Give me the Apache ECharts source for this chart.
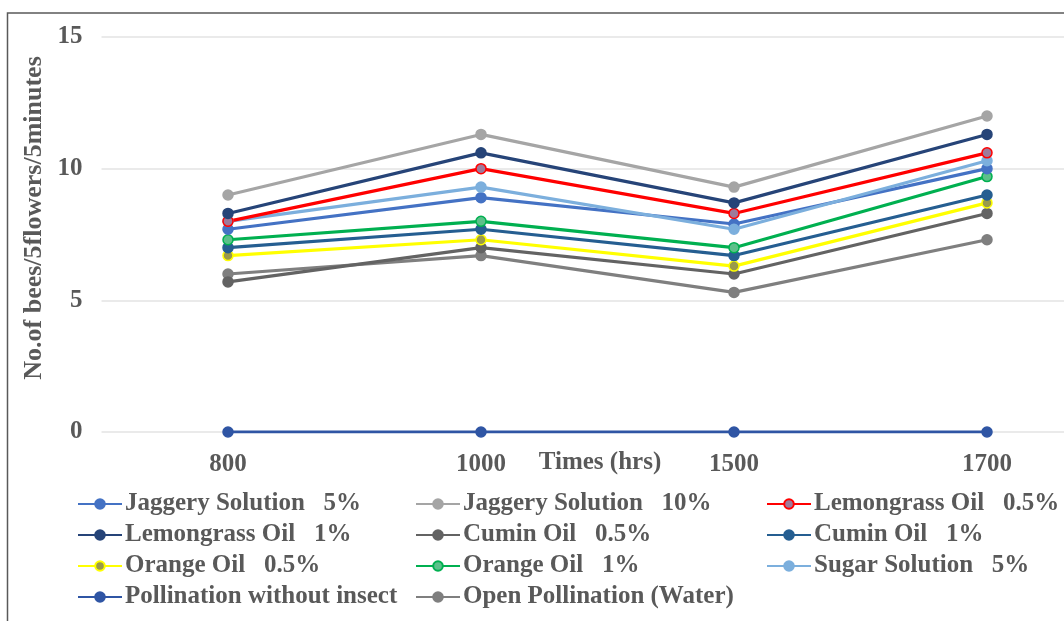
<!DOCTYPE html>
<html><head><meta charset="utf-8">
<script src="https://cdn.jsdelivr.net/npm/echarts@6/dist/echarts.min.js"></script>
<style>html,body{margin:0;padding:0;background:#fff}#c{width:1064px;height:621px}</style>
</head><body><div id="c"></div>
<script>
var categories = ['800', '1000', '1500', '1700'];
var yTicks = [0, 5, 10, 15];
var jaggery5 = [7.7, 8.9, 7.9, 10.0];
var jaggery10 = [9.0, 11.3, 9.3, 12.0];
var lemongrass05 = [8.0, 10.0, 8.3, 10.6];
var lemongrass1 = [8.3, 10.6, 8.7, 11.3];
var cumin05 = [5.7, 7.0, 6.0, 8.3];
var cumin1 = [7.0, 7.7, 6.7, 9.0];
var orange05 = [6.7, 7.3, 6.3, 8.7];
var orange1 = [7.3, 8.0, 7.0, 9.7];
var sugar5 = [8.0, 9.3, 7.7, 10.3];
var noInsect = [0, 0, 0, 0];
var openPollination = [6.0, 6.7, 5.3, 7.3];

var names = ['Jaggery Solution   5%', 'Jaggery Solution   10%', 'Lemongrass Oil   0.5%',
  'Lemongrass Oil   1%', 'Cumin Oil   0.5%', 'Cumin Oil   1%',
  'Orange Oil   0.5%', 'Orange Oil   1%', 'Sugar Solution   5%',
  'Pollination without insect', 'Open Pollination (Water)'];
var values = [jaggery5, jaggery10, lemongrass05, lemongrass1, cumin05, cumin1, orange05, orange1, sugar5, noInsect, openPollination];
var colors = ['#4472C4', '#A5A5A5', '#FF0000', '#264478', '#636363', '#255E91', '#FFFF00', '#00B050', '#7CAFDD', '#2F55A4', '#7F7F7F'];
var markerFill = ['#4472C4', '#A5A5A5', '#9E7A9A', '#264478', '#636363', '#255E91', '#9A9A4A', '#5CC08A', '#7CAFDD', '#2F55A4', '#7F7F7F'];
var drawOrder = [9, 10, 4, 6, 5, 7, 0, 8, 2, 3, 1];

var font = '"Liberation Serif", "Times New Roman", serif';
var txtColor = '#595959';
var series = drawOrder.map(function (i) {
  return {
    name: names[i], type: 'line', data: values[i],
    symbol: 'circle', symbolSize: 10,
    lineStyle: { color: colors[i], width: 3.2 },
    itemStyle: { color: markerFill[i], borderColor: colors[i], borderWidth: 1.5 },
    emphasis: { disabled: true }, animation: false
  };
});

function legendCol(left, items) {
  return {
    left: left, top: 486.5, orient: 'vertical', itemGap: 6,
    itemWidth: 44, itemHeight: 12,
    data: items.map(function (i) { return { name: names[i] }; }),
    textStyle: { fontFamily: font, fontSize: 25, fontWeight: 'bold', color: txtColor, lineHeight: 22, padding: [0, 0, 0, -2] }
  };
}

var chart = echarts.init(document.getElementById('c'));
chart.setOption({
  animation: false,
  color: colors,
  graphic: [
    { type: 'rect', shape: { x: 7.5, y: 13, width: 1100, height: 700 }, style: { fill: 'none', stroke: '#595959', lineWidth: 1.5 }, silent: true },
    { type: 'text', x: 34, y: 218, rotation: Math.PI / 2, silent: true,
      style: { text: 'No.of bees/5flowers/5minutes', font: 'bold 26px ' + font, fill: txtColor, align: 'center', verticalAlign: 'middle' } },
    { type: 'text', x: 600, y: 463, silent: true,
      style: { text: 'Times (hrs)', font: 'bold 25px ' + font, fill: txtColor, align: 'center', verticalAlign: 'middle' } }
  ],
  grid: { left: 101.5, right: -49.5, top: 37, bottom: 189, outerBoundsMode: 'none', containLabel: false },
  legend: [legendCol(72, [0, 3, 6, 9]), legendCol(410, [1, 4, 7, 10]), legendCol(761, [2, 5, 8])],
  xAxis: {
    type: 'category', data: categories, boundaryGap: true,
    axisLine: { show: false }, axisTick: { show: false },
    axisLabel: { fontFamily: font, fontSize: 25, fontWeight: 'bold', color: txtColor, margin: 20 }
  },
  yAxis: {
    type: 'value', min: yTicks[0], max: yTicks[yTicks.length - 1], interval: 5,
    axisLine: { show: false }, axisTick: { show: false },
    axisLabel: { fontFamily: font, fontSize: 25, fontWeight: 'bold', color: txtColor, margin: 19 },
    splitLine: { lineStyle: { color: '#E3E3E3', width: 1.5 } }
  },
  series: series
});
</script></body></html>
